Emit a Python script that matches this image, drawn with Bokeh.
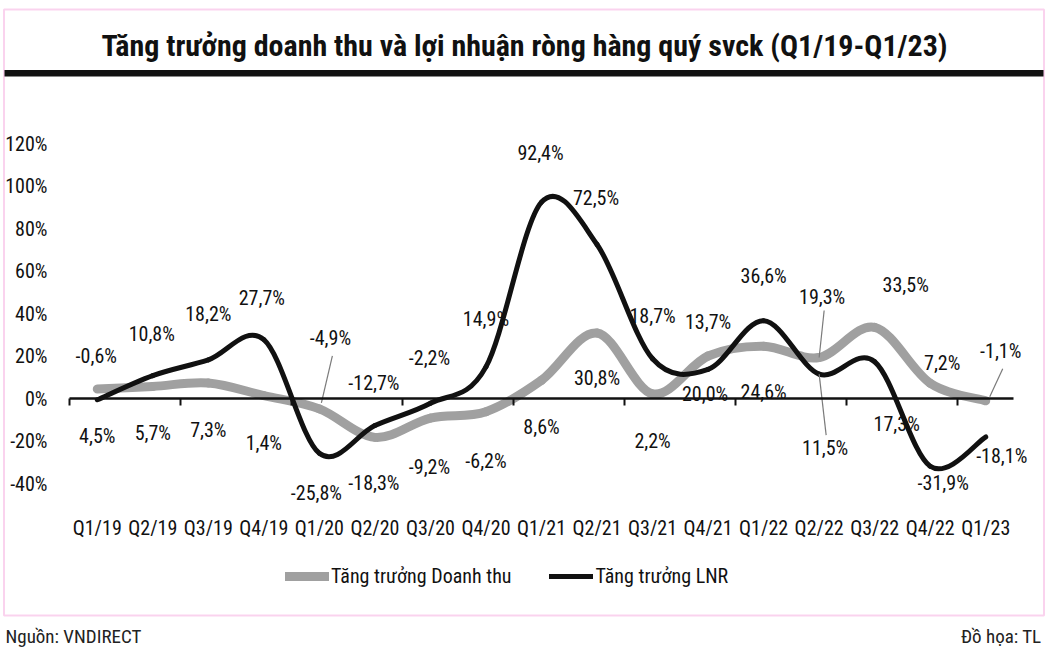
from bokeh.plotting import figure
from bokeh.models import (Range1d, FixedTicker, Legend, LegendItem, Label, BoxAnnotation,
                          LinearAxis, ColumnDataSource, PrintfTickFormatter,
                          CustomJSTickFormatter)
from bokeh.core.properties import value
from bokeh.embed import file_html
from bokeh.resources import INLINE

# ---------------- data ----------------
quarters = ["Q1/19", "Q2/19", "Q3/19", "Q4/19", "Q1/20", "Q2/20", "Q3/20", "Q4/20",
            "Q1/21", "Q2/21", "Q3/21", "Q4/21", "Q1/22", "Q2/22", "Q3/22", "Q4/22", "Q1/23"]
revenue_growth = [4.5, 5.7, 7.3, 1.4, -4.9, -18.3, -9.2, -6.2, 8.6, 30.8, 2.2, 20.0, 24.6,
                  19.3, 33.5, 7.2, -1.1]
profit_growth = [-0.6, 10.8, 18.2, 27.7, -25.8, -12.7, -2.2, 14.9, 92.4, 72.5, 18.7, 13.7,
                 36.6, 11.5, 17.3, -31.9, -18.1]
y_ticks = [-40, -20, 0, 20, 40, 60, 80, 100, 120]
series_names = ["Tăng trưởng Doanh thu", "Tăng trưởng LNR"]
title_text = "Tăng trưởng doanh thu và lợi nhuận ròng hàng quý svck (Q1/19-Q1/23)"
source_text = "Nguồn: VNDIRECT"
credit_text = "Đồ họa: TL"

# ---------------- label placement (screen px, +y = down) ----------------
rev_dx = [0, 0, 0, 0, 11, -1, -1, 0, 0, 0, 0, -3, 0, 3, 31, 12, 15]
rev_dy = [47, 47, 47, 47, -71, 46, 49, 49, 47, 45, 47, 38, 46, -60, -42, -20, -50]
pro_dx = [-1, -1, 0, -2, -3, -1, -1, 0, -1, -1, 0, 0, 0, 6, 22, 13, 16]
pro_dy = [-44, -42, -46, -42, 40, -42, -45, -48, -49, -46, -43, -47, -45, 74, 62, 17, 19]

FONT = "Roboto Condensed"
GRAY = "#a0a0a0"
BLACK = "#111111"
PINK = "#f06cc8"

W, H = 1055, 653
n = len(quarters)
# pixel geometry of the plotting area: category band from x=69 to 1013, 120% at y=143, -40% at y=483
px_x = (1013 - 69) / n
px_y = (483 - 143) / (y_ticks[-1] - y_ticks[0])
x_start = -0.5 - 69 / px_x
y_top = y_ticks[-1] + 143 / px_y
XR = (x_start, x_start + W / px_x)
YR = (y_top - H / px_y, y_top)


def cx(px):
    return x_start + px / px_x


def cy(py):
    return y_top - py / px_y


p = figure(width=W, height=H, output_backend="svg", toolbar_location=None,
           x_range=Range1d(*XR), y_range=Range1d(*YR), x_axis_type=None, y_axis_type=None,
           min_border=0)
p.outline_line_color = None
p.background_fill_color = "white"
p.border_fill_color = "white"
p.xgrid.visible = False
p.ygrid.visible = False

xs = list(range(n))
bounds = [i - 0.5 for i in range(0, n, 2)]

# y axis (labels only)
yax = LinearAxis(ticker=FixedTicker(ticks=y_ticks), formatter=PrintfTickFormatter(format="%d%%"),
                 fixed_location=-0.5, axis_line_color=None, major_tick_line_color=None,
                 minor_tick_line_color=None, major_label_standoff=16,
                 major_label_text_font=FONT, major_label_text_font_size="20px",
                 major_label_text_color=BLACK)
p.add_layout(yax, "left")

# x axis: zero line with tick marks at every second category boundary
xline = LinearAxis(ticker=FixedTicker(ticks=bounds), formatter=CustomJSTickFormatter(code="return ''"),
                   fixed_location=0, bounds=(-0.5, n - 0.5), axis_line_color=BLACK,
                   axis_line_width=2.5, major_tick_line_color=BLACK, major_tick_line_width=2,
                   major_tick_in=0, major_tick_out=7, minor_tick_line_color=None)
p.add_layout(xline, "below")


def bezier_source(xv, yv, t=1/6):
    d = dict(x0=[], y0=[], x1=[], y1=[], cx0=[], cy0=[], cx1=[], cy1=[])
    m = len(xv)
    for i in range(m - 1):
        a = max(i - 1, 0)
        b = min(i + 2, m - 1)
        d["x0"].append(xv[i]); d["y0"].append(yv[i])
        d["x1"].append(xv[i + 1]); d["y1"].append(yv[i + 1])
        d["cx0"].append(xv[i] + (xv[i + 1] - xv[a]) * t)
        d["cy0"].append(yv[i] + (yv[i + 1] - yv[a]) * t)
        d["cx1"].append(xv[i + 1] - (xv[b] - xv[i]) * t)
        d["cy1"].append(yv[i + 1] - (yv[b] - yv[i]) * t)
    return ColumnDataSource(d)


r_rev = p.bezier("x0", "y0", "x1", "y1", "cx0", "cy0", "cx1", "cy1",
                 source=bezier_source(xs, revenue_growth), line_color=GRAY, line_width=9,
                 line_cap="round")
r_pro = p.bezier("x0", "y0", "x1", "y1", "cx0", "cy0", "cx1", "cy1",
                 source=bezier_source(xs, profit_growth), line_color=BLACK, line_width=5,
                 line_cap="round")

# x axis category labels
xlab = LinearAxis(ticker=FixedTicker(ticks=xs),
                  major_label_overrides={i: q for i, q in enumerate(quarters)},
                  fixed_location=0, axis_line_color=None, major_tick_line_color=None,
                  minor_tick_line_color=None, major_label_standoff=111,
                  major_label_text_font=FONT, major_label_text_font_size="20px",
                  major_label_text_color=BLACK)
p.add_layout(xlab, "below")

# leader lines (start/end offsets in px from the data point)
leaders = [
    (revenue_growth, 4, 2, -6, 13, -53),
    (revenue_growth, 13, 0, 0, 5, -47),
    (profit_growth, 13, 0, 0, 7, 61),
    (revenue_growth, 16, 4, -4, 17, -32),
]
lx0, ly0, lx1, ly1 = [], [], [], []
for ser, i, a0, b0, a1, b1 in leaders:
    lx0.append(xs[i] + a0 / px_x); ly0.append(ser[i] - b0 / px_y)
    lx1.append(xs[i] + a1 / px_x); ly1.append(ser[i] - b1 / px_y)
p.segment(x0=lx0, y0=ly0, x1=lx1, y1=ly1, line_color="#7a7a7a", line_width=1.2)


def fmt(v):
    return f"{v:.1f}%".replace(".", ",")


for ser, dx, dy in ((revenue_growth, rev_dx, rev_dy), (profit_growth, pro_dx, pro_dy)):
    src = ColumnDataSource(dict(x=xs, y=ser, t=[fmt(v) for v in ser], dx=dx, dy=dy))
    p.text(x="x", y="y", text="t", x_offset="dx", y_offset="dy", source=src,
           text_align="center", text_baseline="middle", text_font=value(FONT),
           text_font_size="20px", text_color=BLACK)

legend = Legend(items=[LegendItem(label=series_names[0], renderers=[r_rev]),
                       LegendItem(label=series_names[1], renderers=[r_pro])],
                orientation="horizontal", location=(285, 65),
                label_text_font=FONT, label_text_font_size="20px", label_text_color=BLACK,
                glyph_width=44, glyph_height=20, spacing=38, padding=0, margin=0,
                label_standoff=2, border_line_alpha=0, background_fill_alpha=0)
p.add_layout(legend, "center")

# frame decorations
p.add_layout(BoxAnnotation(left=cx(3.5), right=cx(1043.5), top=cy(9), bottom=cy(615),
                           fill_alpha=0, line_color=PINK, line_width=2))
p.add_layout(BoxAnnotation(left=cx(4), right=cx(1043), top=cy(69.5), bottom=cy(76),
                           fill_color=BLACK, fill_alpha=1, line_alpha=0))
p.add_layout(Label(x=cx(524), y=cy(45), text=title_text, text_align="center",
                   text_baseline="middle", text_font=FONT, text_font_style="bold",
                   text_font_size="30px", text_color=BLACK))
p.add_layout(Label(x=cx(5), y=cy(636), text=source_text, text_align="left",
                   text_baseline="middle", text_font=FONT, text_font_size="19px",
                   text_color="#222222"))
p.add_layout(Label(x=cx(1041), y=cy(636), text=credit_text, text_align="right",
                   text_baseline="middle", text_font=FONT, text_font_size="19px",
                   text_color="#222222"))

open("out.html", "w").write(file_html(p, INLINE))
